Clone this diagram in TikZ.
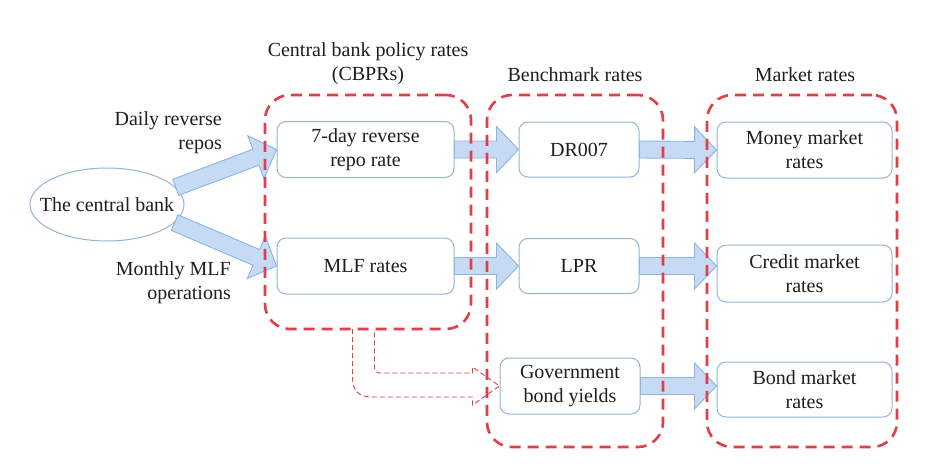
\documentclass[tikz,border=0pt]{standalone}
\usepackage{fontspec}
\setmainfont{Liberation Serif}
\usetikzlibrary{calc,shapes.geometric}
\definecolor{abfill}{HTML}{C6DBF3}
\definecolor{abdraw}{HTML}{8DB3E2}
\definecolor{boxdraw}{HTML}{95B3D7}
\definecolor{dred}{HTML}{DF3F4B}
\definecolor{txt}{HTML}{1E1E1E}
\newcommand\blockarrow[2]{%
  \coordinate (ba-h) at ($(#2)!22pt!(#1)$);
  \draw[barrow] ($(#1)!8.5pt!90:(#2)$) -- ($(ba-h)!8.5pt!90:(#2)$) -- ($(ba-h)!23pt!90:(#2)$)
    -- (#2) -- ($(ba-h)!23pt!-90:(#2)$) -- ($(ba-h)!8.5pt!-90:(#2)$) -- ($(#1)!8.5pt!-90:(#2)$) -- cycle;}
\begin{document}
\begin{tikzpicture}[x=1pt,y=-1pt,
  every node/.style={font=\fontsize{20}{24}\selectfont, text=txt},
  rbox/.style={draw=boxdraw, line width=1pt, fill=white, rounded corners=9pt, align=center, inner sep=0pt},
  grp/.style={draw=dred, line width=2.6pt, dash pattern=on 11pt off 7pt, rounded corners=25pt, inner sep=0pt},
  barrow/.style={draw=abdraw, fill=abfill, line width=0.9pt, line join=miter},
  lbl/.style={align=right, anchor=east, inner sep=0pt},
  ttl/.style={align=center, inner sep=0pt}]
\useasboundingbox (0,0) rectangle (925,463);
\fill[white] (0,0) rectangle (925,463);
% nodes
\node[draw=boxdraw, line width=1pt, ellipse, minimum width=154pt, minimum height=73pt, inner sep=0pt] (cb) at (107,204.5) {\makebox[0pt]{The central bank}};
\node[rbox, minimum width=177pt, minimum height=56pt] (r7) at (365.5,149.5) {7-day reverse\\repo rate};
\node[rbox, minimum width=177pt, minimum height=56pt] (mlf) at (365.5,266) {MLF rates};
\node[rbox, minimum width=120pt, minimum height=55pt] (dr) at (579,149.5) {DR007};
\node[rbox, minimum width=120pt, minimum height=55pt] (lpr) at (579,266) {LPR};
\node[rbox, minimum width=140pt, minimum height=56pt] (gov) at (570,386) {Government\\bond yields};
\node[rbox, minimum width=175pt, minimum height=56pt] (money) at (804.5,150) {Money market\\rates};
\node[rbox, minimum width=175pt, minimum height=57pt] (credit) at (804.5,273.5) {Credit market\\rates};
\node[rbox, minimum width=175pt, minimum height=55pt] (bond) at (804.5,389.5) {Bond market\\rates};
% labels
\node[lbl] (l1) at (222,132.5) {Daily reverse\\repos};
\node[lbl] (l2) at (231,283) {Monthly MLF\\operations};
\node[ttl] (t1) at (368,64) {Central bank policy rates\\(CBPRs)};
\node[ttl] (t2) at (575,75) {Benchmark rates};
\node[ttl] (t3) at (805,75) {Market rates};
% block arrows
\blockarrow{cb.14}{r7.west}
\blockarrow{cb.-15}{mlf.west}
\blockarrow{r7.east}{dr.west}
\blockarrow{mlf.east}{lpr.west}
\blockarrow{dr.east}{money.west}
\blockarrow{lpr.east}{lpr.east -| credit.west}
\blockarrow{gov.east}{gov.east -| bond.west}
% groups
\node[grp, minimum width=206pt, minimum height=234pt] (cbpr) at (368,212) {};
\node[grp, minimum width=176pt, minimum height=352pt] (bench) at (575,271) {};
\node[grp, minimum width=190pt, minimum height=352pt] (market) at (802,271) {};
% dashed bent arrow from CBPRs to government bond yields
\begin{scope}[shift={(gov.west)}]
\draw[dred, line width=0.9pt, dash pattern=on 5pt off 3pt, line join=miter]
  (-147,-57) -- (-147,-9) .. controls (-147,5) and (-141,11) .. (-127,11) -- (-27,11) -- (-27,19)
  -- (0,0) -- (-27,-19) -- (-27,-13) -- (-119,-13) .. controls (-123,-13) and (-125,-15) .. (-125,-19) -- (-125,-57);
\end{scope}
\end{tikzpicture}
\end{document}
